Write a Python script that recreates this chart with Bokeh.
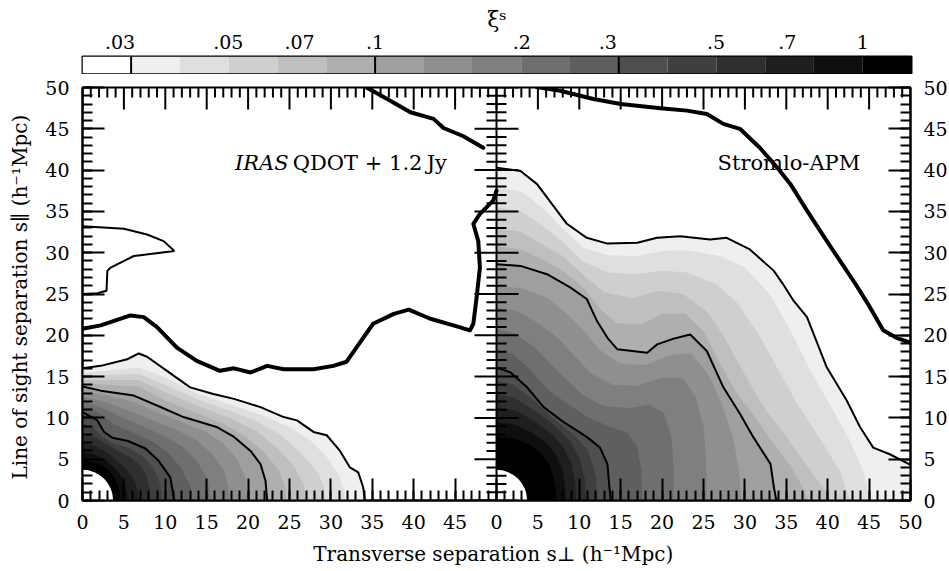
import math
from bokeh.plotting import figure
from bokeh.layouts import column
from bokeh.models import Range1d, LinearAxis, FixedTicker, Label, Span
from bokeh.embed import file_html
from bokeh.resources import INLINE

FONT = "DejaVu Serif"

# ---------------- colour scale (xi^s levels, 0.1 dex apart) ----------------
LEVELS = [0.0316, 0.0398, 0.0501, 0.0631, 0.0794, 0.1, 0.126, 0.158, 0.2,
          0.251, 0.316, 0.398, 0.501, 0.631, 0.794, 1.0]
LINED = [0, 5, 10]                       # levels drawn with a black line
CBAR_MIN, CBAR_MAX = 0.02512, 1.2589
CBAR_TICKS = [0.03, 0.05, 0.07, 0.1, 0.2, 0.3, 0.5, 0.7, 1.0]
CBAR_TICK_LABELS = [".03", ".05", ".07", ".1", ".2", ".3", ".5", ".7", "1"]
BAND_COLORS = ["#efefef", "#dfdfdf", "#cfcfcf", "#bfbfbf", "#afafaf", "#9f9f9f",
               "#8f8f8f", "#7f7f7f", "#6f6f6f", "#5f5f5f", "#4f4f4f", "#3f3f3f",
               "#2f2f2f", "#1f1f1f", "#0f0f0f", "#000000"]

X_TICKS_LEFT = [0, 5, 10, 15, 20, 25, 30, 35, 40, 45]
X_TICKS_RIGHT = [0, 5, 10, 15, 20, 25, 30, 35, 40, 45, 50]
Y_TICKS = [0, 5, 10, 15, 20, 25, 30, 35, 40, 45, 50]
HOLE_RADIUS = 3.7

# ---------------- IRAS QDOT + 1.2Jy : contour of each level ----------------
I00 = [(0, 16.0), (2.2, 16.3), (5.4, 17.1), (6.8, 17.8), (7.8, 17.4), (10.2, 15.7), (13.0, 13.7),
       (15.8, 12.9), (18.3, 12.3), (21.5, 11.3), (24.3, 10.1), (25.9, 9.7), (27.9, 8.3), (29.5, 7.9),
       (31.1, 6.0), (32.3, 4.0), (33.3, 3.4), (33.9, 1.6), (34.1, 0)]
I01 = [(0, 15.5), (3, 15.7), (6.8, 16.1), (10, 14.9), (14, 12.9), (18, 11.6), (22, 10.2), (25, 8.9),
       (27.5, 7.3), (29.5, 5.3), (31, 3.0), (31.6, 1.2), (31.7, 0)]
I02 = [(0, 15.1), (3, 15.2), (6.8, 15.3), (10, 14.0), (14, 12.2), (18, 10.8), (21, 9.6), (24, 7.9),
       (26.5, 5.6), (28.5, 3.3), (29.2, 1.5), (29.3, 0)]
I03 = [(0, 14.6), (3, 14.6), (6.8, 14.6), (10, 13.1), (14, 11.4), (18, 9.9), (21, 8.4), (23.5, 6.4),
       (25.5, 4.2), (26.7, 2.0), (27.0, 0)]
I04 = [(0, 14.2), (3, 14.0), (6.8, 13.8), (10, 12.1), (14, 10.5), (17, 9.3), (19.5, 7.9), (22, 5.8),
       (23.8, 3.5), (24.5, 1.5), (24.6, 0)]
I05 = [(0, 13.8), (2.2, 13.3), (6.2, 12.7), (9.0, 11.5), (12.2, 10.1), (14.2, 9.5), (16.2, 8.9),
       (18.3, 7.7), (20.3, 6.0), (21.5, 4.4), (22.1, 2.4), (22.3, 0)]
I06 = [(0, 13.2), (3, 12.7), (6, 12.0), (9, 10.7), (12, 9.5), (15, 8.3), (17, 6.9), (18.7, 5.0),
       (19.7, 2.8), (20.0, 0)]
I07 = [(0, 12.6), (2.5, 12.0), (5, 11.1), (8, 9.9), (11, 8.7), (13.5, 7.5), (15.5, 5.8), (17, 3.8),
       (17.6, 1.8), (17.7, 0)]
I08 = [(0, 12.0), (2.2, 11.3), (4.5, 10.2), (7, 9.1), (9.5, 8.0), (12, 6.6), (13.8, 4.8), (15.1, 2.6),
       (15.5, 0)]
I09 = [(0, 11.4), (2, 10.6), (3.8, 9.2), (6, 8.3), (8.5, 7.1), (10.5, 5.6), (12.0, 3.8), (13.0, 1.8),
       (13.3, 0)]
I10 = [(0, 10.7), (1.8, 9.7), (2.6, 8.3), (3.6, 7.6), (5.5, 7.2), (7.6, 6.3), (9.2, 4.8), (10.6, 2.8),
       (11.1, 0)]
I11 = [(0, 9.3), (1.2, 8.9), (2.2, 7.9), (3.5, 7.0), (5.5, 6.4), (7.3, 5.4), (8.6, 3.9), (9.4, 2.0), (9.6, 0)]
I12 = [(0, 8.1), (1.5, 7.7), (2.8, 6.9), (4.3, 6.0), (5.8, 5.2), (7.0, 4.2), (7.8, 2.8), (8.1, 1.4), (8.2, 0)]
I13 = [(0, 6.9), (1.5, 6.6), (2.8, 5.9), (4.0, 5.0), (5.1, 4.0), (6.0, 2.9), (6.6, 1.5), (6.8, 0)]
I14 = [(0, 5.8), (1.4, 5.6), (2.6, 5.0), (3.6, 4.2), (4.5, 3.2), (5.1, 2.1), (5.4, 1.0), (5.5, 0)]
I15 = [(0, 4.8), (1.2, 4.7), (2.3, 4.3), (3.2, 3.6), (3.9, 2.7), (4.3, 1.7), (4.5, 0.8), (4.5, 0)]

IRAS_ISLAND = [(0, 33.2), (5.0, 32.9), (7.8, 32.2), (9.8, 31.4), (11.1, 30.2), (9.4, 30.0), (7.0, 29.7),
               (6.2, 29.6), (4.6, 28.8), (3.4, 28.2), (3.0, 27.8), (2.9, 25.4), (1.8, 25.1), (0, 25.0)]
IRAS_ZERO_A = [(34.3, 50.0), (36.8, 48.6), (39.6, 47.0), (42.4, 46.2), (43.6, 45.1), (46.0, 44.1), (48.4, 42.7)]
IRAS_ZERO_B = [(0, 20.8), (2.2, 21.2), (5.8, 22.4), (7.4, 22.2), (9.0, 21.0), (11.4, 18.5), (13.8, 16.9),
               (16.6, 15.7), (18.3, 16.0), (20.3, 15.5), (22.3, 16.3), (24.3, 15.9), (27.9, 15.9),
               (30.3, 16.3), (31.9, 16.8), (33.9, 19.7), (35.1, 21.4), (37.6, 22.6), (39.4, 23.1),
               (42.0, 22.0), (44.8, 21.2), (46.8, 20.6), (47.2, 21.4), (47.6, 24.6), (48.0, 28.2),
               (47.8, 31.4), (47.2, 33.5), (48.0, 34.7), (49.6, 36.3), (50.0, 37.5)]

# ---------------- Stromlo-APM : contour of each level ----------------
S00 = [(0, 40.3), (2.9, 39.9), (4.9, 38.3), (7.3, 35.1), (8.5, 33.5), (10.9, 31.8), (13.4, 31.1),
       (17.0, 31.2), (19.4, 31.8), (22.2, 32.0), (25.8, 31.6), (27.8, 31.8), (30.6, 30.4), (33.5, 27.8),
       (34.6, 26.2), (35.8, 24.3), (37.5, 22.2), (39.9, 16.1), (42.3, 12.1), (43.9, 8.9), (45.5, 6.4),
       (47.5, 5.6), (50, 4.3)]
S01 = [(0, 37.9), (3, 37.4), (5.5, 35.5), (8, 32.9), (10.5, 30.6), (13.5, 29.7), (17, 29.6), (20, 30.2),
       (23, 30.3), (27, 29.6), (30, 28.2), (33, 25.0), (35.5, 20.6), (38, 15.6), (40.5, 11.2), (42.5, 7.6),
       (44.3, 3.6), (45.1, 0)]
S02 = [(0, 35.5), (3, 35.0), (5.5, 33.3), (8, 31.3), (10.5, 28.9), (13.5, 27.6), (17, 27.4), (20, 27.8),
       (23, 27.6), (26.5, 26.2), (29, 24.0), (31.5, 20.4), (34, 15.9), (36.5, 11.4), (39, 7.6), (41.5, 3.5),
       (42.7, 0)]
S03 = [(0, 33.0), (3, 32.5), (5.5, 31.0), (8, 29.6), (10.5, 27.3), (13, 25.2), (16.5, 24.5), (19.5, 25.4),
       (22.5, 25.0), (25.5, 22.8), (27.5, 19.8), (29.8, 15.6), (32.2, 11.4), (34.8, 8.0), (37.2, 4.6),
       (39.5, 1.5), (40.3, 0)]
S04 = [(0, 30.8), (3, 30.4), (5.5, 29.2), (8, 27.8), (10.5, 25.8), (12.5, 23.2), (14.5, 21.5), (17.5, 21.3),
       (20, 22.6), (22.8, 22.6), (25, 20.5), (27, 16.6), (29, 13.0), (31, 10.4), (33.2, 7.2), (35.5, 4.2),
       (37.0, 1.6), (37.7, 0)]
S05 = [(0, 28.6), (2.9, 28.4), (6.1, 27.4), (8.9, 25.8), (10.9, 24.4), (12.1, 21.8), (13.4, 19.7),
       (14.6, 18.3), (18.2, 17.9), (19.4, 18.9), (21.4, 19.6), (23.4, 20.1), (25.4, 18.1), (27.4, 13.7),
       (29.4, 10.5), (31.0, 7.7), (33.1, 4.4), (33.5, 1.6), (33.8, 0)]
S06 = [(0, 26.0), (3, 25.7), (6, 24.6), (8.5, 22.6), (10.5, 20.6), (12.5, 18.2), (15, 16.6), (18, 16.4),
       (21, 17.6), (23.5, 17.8), (25.5, 15.4), (27.2, 11.8), (28.6, 7.5), (29.3, 3.5), (29.6, 0)]
S07 = [(0, 23.4), (2.5, 22.9), (5, 21.5), (7.5, 19.6), (9.5, 17.4), (11.5, 15.3), (14, 14.0), (17, 13.9),
       (20, 14.9), (22.5, 14.8), (24, 12.6), (25, 9.0), (25.3, 5.0), (25.4, 0)]
S08 = [(0, 20.8), (2.2, 20.2), (4.5, 18.6), (6.5, 16.6), (8.5, 14.6), (10.5, 12.7), (13, 11.4), (16, 11.2),
       (18.5, 11.6), (20.2, 10.6), (21.1, 7.8), (21.4, 4.0), (21.4, 0)]
S09 = [(0, 18.3), (2, 17.7), (4, 15.9), (6, 13.6), (8.3, 11.9), (11, 10.1), (13.5, 9.0), (15.8, 8.2),
       (17, 6.5), (17.5, 3.5), (17.6, 0)]
S10 = [(0, 16.1), (1.7, 15.5), (3.7, 13.7), (5.7, 11.3), (8.1, 9.5), (10.9, 7.7), (12.5, 6.4), (13.4, 4.4),
       (13.6, 2.0), (13.8, 0)]
S11 = [(0, 14.5), (2, 14.0), (4.3, 12.3), (6.8, 10.0), (9.4, 7.9), (11.1, 6.0), (12.0, 3.0), (12.2, 0)]
S12 = [(0, 12.9), (2.2, 12.4), (4.6, 10.9), (7, 9.1), (8.9, 7.2), (10.1, 5.0), (10.7, 2.4), (10.8, 0)]
S13 = [(0, 11.3), (2.3, 10.9), (4.6, 9.6), (6.6, 8.1), (8.1, 6.4), (9.1, 4.4), (9.5, 2.0), (9.6, 0)]
S14 = [(0, 9.5), (2.2, 9.2), (4.3, 8.2), (6, 7.0), (7.2, 5.5), (8.0, 3.6), (8.3, 1.6), (8.4, 0)]
S15 = [(0, 7.7), (2, 7.5), (3.8, 6.9), (5.2, 5.9), (6.3, 4.5), (6.9, 2.8), (7.2, 1.2), (7.2, 0)]

APM_ZERO = [(4.7, 50.1), (7.7, 49.6), (11.7, 48.6), (15.0, 48.0), (19.8, 47.5), (23.0, 47.2), (25.4, 46.8),
            (27.4, 45.6), (29.4, 45.0), (31.8, 42.7), (33.9, 40.3), (35.5, 38.3), (37.5, 35.1), (39.9, 31.4),
            (42.3, 27.8), (43.3, 26.3), (44.8, 23.9), (46.7, 20.6), (48.3, 19.7), (50.0, 19.1)]

IRAS_CONTOURS = [I00, I01, I02, I03, I04, I05, I06, I07, I08, I09, I10, I11, I12, I13, I14, I15]
APM_CONTOURS = [S00, S01, S02, S03, S04, S05, S06, S07, S08, S09, S10, S11, S12, S13, S14, S15]

X_TITLE = "Transverse separation s\u22a5  (h\u207b\u00b9Mpc)"
Y_TITLE = "Line of sight separation s\u2225  (h\u207b\u00b9Mpc)"
CBAR_TITLE = "\u03be\u02e2"


def region(contour):
    """polygon of the area where xi^s exceeds the level: contour closed along the axes"""
    xs = [pt[0] for pt in contour] + [contour[-1][0], 0.0]
    ys = [pt[1] for pt in contour] + [0.0, 0.0]
    return xs, ys


def line_xy(pts):
    return [pt[0] for pt in pts], [pt[1] for pt in pts]


def txt(fig, text, x, y, size="20px", style="normal", align="left", rng="default"):
    fig.add_layout(Label(x=x, y=y, text=text, text_font=FONT, text_font_size=size,
                         text_font_style=style, text_align=align, text_baseline="alphabetic",
                         text_color="black", x_range_name=rng))


# ---------------- main two-panel figure ----------------
FW, FH = 828, 413
p = figure(frame_width=FW, frame_height=FH, x_range=Range1d(0, 100), y_range=Range1d(0, 50),
           x_axis_location=None, y_axis_location=None,
           min_border_left=82, min_border_right=39, min_border_top=13, min_border_bottom=70,
           output_backend="svg", toolbar_location=None,
           background_fill_color="white", border_fill_color="white")
p.outline_line_color = "black"
p.outline_line_width = 2
p.extra_x_ranges = {"right": Range1d(-50, 50)}
p.xgrid.visible = False
p.ygrid.visible = False

for contours, rng in ((IRAS_CONTOURS, "default"), (APM_CONTOURS, "right")):
    polys = [region(c) for c in contours]
    p.patches(xs=[a for a, b in polys], ys=[b for a, b in polys], fill_color=BAND_COLORS,
              line_color=None, x_range_name=rng)
    p.wedge(x=[0], y=[0], radius=HOLE_RADIUS, start_angle=0, end_angle=math.pi / 2,
            fill_color="white", line_color=None, x_range_name=rng)
    lined = [line_xy(contours[i]) for i in LINED]
    p.multi_line(xs=[a for a, b in lined], ys=[b for a, b in lined], line_color="black",
                 line_width=2, x_range_name=rng)

isl = line_xy(IRAS_ISLAND)
p.line(isl[0], isl[1], line_color="black", line_width=2)
thick = [line_xy(IRAS_ZERO_A), line_xy(IRAS_ZERO_B)]
p.multi_line(xs=[a for a, b in thick], ys=[b for a, b in thick], line_color="black", line_width=4,
             line_join="round", line_cap="round")
az = line_xy(APM_ZERO)
p.line(az[0], az[1], line_color="black", line_width=4, line_join="round", x_range_name="right")

MAJOR_IN, MINOR_IN = 22, 10
x_pos = X_TICKS_LEFT + [t + 50 for t in X_TICKS_RIGHT]
x_over = {t: str(t) for t in X_TICKS_LEFT}
x_over.update({t + 50: str(t) for t in X_TICKS_RIGHT})
x_minor = list(range(0, 101))
y_minor = list(range(0, 51))

# shared border between the panels, ticked on both sides
p.add_layout(Span(location=50, dimension="height", line_color="black", line_width=2))
ux = 100.0 / FW
uy = 50.0 / FH
my = [v for v in y_minor if v not in Y_TICKS]
p.segment(x0=[50 - MINOR_IN * ux] * len(my), x1=[50 + MINOR_IN * ux] * len(my),
          y0=my, y1=my, line_color="black", line_width=2)
p.segment(x0=[50 - MAJOR_IN * ux] * len(Y_TICKS), x1=[50 + MAJOR_IN * ux] * len(Y_TICKS),
          y0=Y_TICKS, y1=Y_TICKS, line_color="black", line_width=2)
# top edge ticks (inward)
mx = [v for v in x_minor if v not in x_pos]
p.segment(x0=mx, x1=mx, y0=[50] * len(mx), y1=[50 - MINOR_IN * uy] * len(mx),
          line_color="black", line_width=2)
p.segment(x0=x_pos, x1=x_pos, y0=[50] * len(x_pos), y1=[50 - MAJOR_IN * uy] * len(x_pos),
          line_color="black", line_width=2)


def make_axis(ticks, minor, standoff=12, overrides=None, size="19px", title=None, title_standoff=10):
    ax = LinearAxis(ticker=FixedTicker(ticks=ticks, minor_ticks=minor))
    ax.major_tick_in = MAJOR_IN
    ax.major_tick_out = 0
    ax.minor_tick_in = MINOR_IN
    ax.minor_tick_out = 0
    ax.axis_line_width = 2
    ax.major_tick_line_width = 2
    ax.minor_tick_line_width = 2
    ax.major_label_text_font = FONT
    ax.major_label_text_color = "black"
    ax.major_label_text_font_size = size
    ax.major_label_standoff = standoff
    if overrides:
        ax.major_label_overrides = overrides
    if title:
        ax.axis_label = title
        ax.axis_label_text_font = FONT
        ax.axis_label_text_font_size = "20px"
        ax.axis_label_text_font_style = "normal"
        ax.axis_label_text_color = "black"
        ax.axis_label_standoff = title_standoff
    return ax


p.add_layout(make_axis(x_pos, x_minor, 14, x_over, title=X_TITLE, title_standoff=10), "below")
p.add_layout(make_axis(Y_TICKS, y_minor, 13, title=Y_TITLE, title_standoff=10), "left")
p.add_layout(make_axis(Y_TICKS, y_minor, 13), "right")

# panel titles
txt(p, "IRAS", 24.9, 40.9, size="21px", style="italic", align="right")
txt(p, "QDOT + 1.2\u2009Jy", 25.4, 40.9, size="21px")
txt(p, "Stromlo-APM", 26.7, 40.9, size="21px", rng="right")

# ---------------- colour bar ----------------
cb = figure(frame_width=829, frame_height=17, x_axis_type="log",
            x_range=Range1d(CBAR_MIN, CBAR_MAX), y_range=Range1d(0, 1),
            x_axis_location="above", y_axis_location=None,
            min_border_left=82, min_border_right=38, min_border_top=56, min_border_bottom=1,
            output_backend="svg", toolbar_location=None,
            background_fill_color="white", border_fill_color="white")
cb.outline_line_color = "black"
cb.outline_line_width = 2
cb.xgrid.visible = False
cb.ygrid.visible = False
edges_left = [CBAR_MIN] + LEVELS
edges_right = LEVELS + [CBAR_MAX]
cb.quad(left=edges_left, right=edges_right, bottom=0, top=1,
        fill_color=["#ffffff"] + BAND_COLORS, line_color=None)
sep = [LEVELS[i] for i in LINED]
cb.segment(x0=sep, x1=sep, y0=[0] * len(sep), y1=[1] * len(sep), line_color="black", line_width=2)
ax = cb.xaxis[0]
ax.ticker = FixedTicker(ticks=CBAR_TICKS, minor_ticks=[])
ax.major_label_overrides = {t: l for t, l in zip(CBAR_TICKS, CBAR_TICK_LABELS)}
ax.major_tick_in = 0
ax.major_tick_out = 0
ax.minor_tick_in = 0
ax.minor_tick_out = 0
ax.axis_line_color = None
ax.major_label_text_font = FONT
ax.major_label_text_font_size = "19px"
ax.major_label_text_color = "black"
ax.major_label_standoff = 8
ax.axis_label = CBAR_TITLE
ax.axis_label_text_font = FONT
ax.axis_label_text_font_size = "22px"
ax.axis_label_text_font_style = "normal"
ax.axis_label_text_color = "black"
ax.axis_label_standoff = 0

layout = column(cb, p)
open("out.html", "w").write(file_html(layout, INLINE))
